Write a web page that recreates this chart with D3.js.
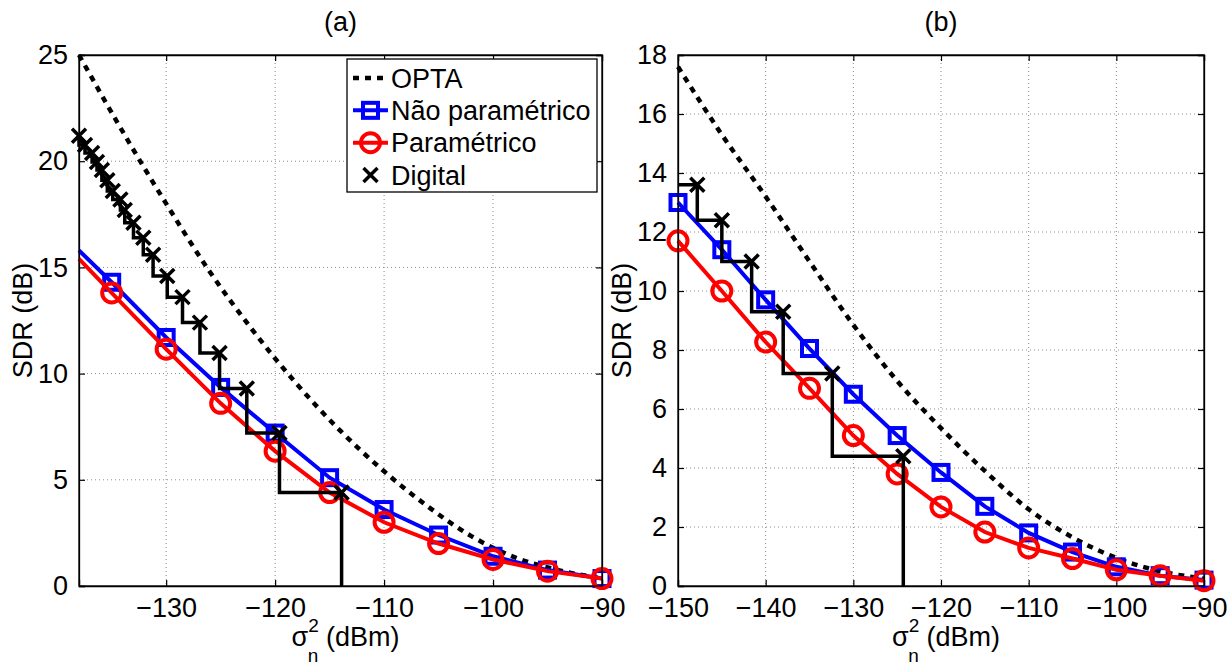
<!DOCTYPE html>
<html><head><meta charset="utf-8">
<script src="https://cdn.jsdelivr.net/npm/d3@7"></script>
<style>body{margin:0;background:#fff} text{font-family:"Liberation Sans",Arial,Helvetica,sans-serif;fill:#000}</style>
</head><body><svg id="c" width="1227" height="666"></svg>
<script>
// ---------- data : panel (a) ----------
const optaXA = [-138,-134,-130,-126,-122,-118,-114,-110,-106,-102,-98,-94,-90];
const optaYA = [25,21.4,18.0,14.8,12.0,9.5,7.3,5.4,3.75,2.35,1.35,0.75,0.35];
const markXA = [-135,-130,-125,-120,-115,-110,-105,-100,-95,-90];
const nparYA = [14.3,11.7,9.35,7.2,5.1,3.6,2.4,1.4,0.75,0.35];
const parYA  = [13.8,11.15,8.6,6.35,4.4,3.0,2.0,1.25,0.7,0.35];
const nparStartA = 15.8;   // value at left edge of axis
const parStartA  = 15.4;
const digXA = [-138.0,-137.45,-136.8,-136.35,-135.9,-135.4,-134.9,-134.2,-133.8,-133.0,-132.1,-131.2,-129.9,-128.5,-126.9,-125.1,-122.6,-119.6,-113.9];
const digYA = [21.2,20.76,20.39,19.96,19.59,19.1,18.6,18.2,17.7,17.1,16.4,15.6,14.6,13.6,12.4,10.97,9.3,7.2,4.4];
const xTicksA = [-130,-120,-110,-100,-90];
const yTicksA = [0,5,10,15,20,25];

// ---------- data : panel (b) ----------
const xB = [-150,-145,-140,-135,-130,-125,-120,-115,-110,-105,-100,-95,-90];
const optaYB = [17.6,15.3,13.2,11.0,8.85,6.95,5.35,3.9,2.6,1.65,0.95,0.5,0.25];
const nparYB = [13.0,11.4,9.7,8.05,6.5,5.1,3.85,2.7,1.8,1.15,0.65,0.35,0.2];
const parYB  = [11.7,10.0,8.27,6.7,5.1,3.8,2.68,1.83,1.29,0.93,0.55,0.35,0.18];
const digXB = [-147.8,-145.0,-141.6,-138.0,-132.4,-124.3];
const digYB = [13.6,12.4,11.0,9.3,7.2,4.4];
const xTicksB = [-150,-140,-130,-120,-110,-100,-90];
const yTicksB = [0,2,4,6,8,10,12,14,16,18];

const legendLabels = ["OPTA","Não paramétrico","Paramétrico","Digital"];
const titles = ["(a)","(b)"];

const FS = 27;
const LW = 4;      // series line width
const SQ = 15;     // square side
const CR = 9.5;    // circle radius
const XH = 7;      // x-marker half size
const svg = d3.select("#c");
const fmt = d3.format("");

function xMark(cx,cy){return `M${cx-XH},${cy-XH}L${cx+XH},${cy+XH}M${cx-XH},${cy+XH}L${cx+XH},${cy-XH}`;}

function drawPanel(cfg){
  const g = svg.append("g");
  const x = d3.scaleLinear().domain(cfg.xd).range([cfg.x0, cfg.x1]);
  const y = d3.scaleLinear().domain(cfg.yd).range([cfg.y1, cfg.y0]);
  // grid
  g.selectAll(".gx").data(cfg.xt.filter(v=>v>cfg.xd[0]&&v<cfg.xd[1])).enter().append("line")
    .attr("x1",d=>x(d)).attr("x2",d=>x(d)).attr("y1",cfg.y0).attr("y2",cfg.y1)
    .attr("stroke","#8a8a8a").attr("stroke-width",1).attr("stroke-dasharray","1,3");
  g.selectAll(".gy").data(cfg.yt.filter(v=>v>cfg.yd[0]&&v<cfg.yd[1])).enter().append("line")
    .attr("y1",d=>y(d)).attr("y2",d=>y(d)).attr("x1",cfg.x0).attr("x2",cfg.x1)
    .attr("stroke","#8a8a8a").attr("stroke-width",1).attr("stroke-dasharray","1,3");

  // axes with inward ticks
  const TL = 6;
  const axB = d3.axisBottom(x).tickValues(cfg.xt).tickSize(-TL).tickPadding(TL+6).tickFormat(fmt);
  const axT = d3.axisTop(x).tickValues(cfg.xt).tickSize(-TL).tickFormat("");
  const axL = d3.axisLeft(y).tickValues(cfg.yt).tickSize(-TL).tickPadding(TL+5).tickFormat(fmt);
  const axR = d3.axisRight(y).tickValues(cfg.yt).tickSize(-TL).tickFormat("");
  [[axB,`translate(0,${cfg.y1})`],[axT,`translate(0,${cfg.y0})`],[axL,`translate(${cfg.x0},0)`],[axR,`translate(${cfg.x1},0)`]]
    .forEach(([a,t])=>{
      const ga = g.append("g").attr("transform",t).call(a);
      ga.select(".domain").attr("stroke","#000").attr("stroke-width",1.3);
      ga.selectAll(".tick line").attr("stroke","#000").attr("stroke-width",1.2);
      ga.selectAll("text").attr("font-size",FS).attr("font-family","Liberation Sans, Arial, sans-serif").attr("fill","#000");
    });

  const pg = g.append("g");
  const line = d3.line().x(d=>x(d[0])).y(d=>y(d[1]));
  // OPTA
  pg.append("path").datum(d3.zip(cfg.optaX,cfg.optaY)).attr("d",line.curve(d3.curveMonotoneX))
    .attr("fill","none").attr("stroke","#000").attr("stroke-width",4.5).attr("stroke-dasharray","6,6");
  line.curve(d3.curveLinear);
  // Não paramétrico
  const npPts = d3.zip(cfg.mx,cfg.npar);
  const npLine = cfg.npStart!=null ? [[cfg.xd[0],cfg.npStart]].concat(npPts) : npPts;
  pg.append("path").datum(npLine).attr("d",line).attr("fill","none").attr("stroke","#0000ff").attr("stroke-width",LW);
  pg.selectAll(".sq").data(npPts).enter().append("rect")
    .attr("x",d=>x(d[0])-SQ/2).attr("y",d=>y(d[1])-SQ/2).attr("width",SQ).attr("height",SQ)
    .attr("fill","none").attr("stroke","#0000ff").attr("stroke-width",LW);
  // Paramétrico
  const pPts = d3.zip(cfg.mx,cfg.par);
  const pLine = cfg.pStart!=null ? [[cfg.xd[0],cfg.pStart]].concat(pPts) : pPts;
  pg.append("path").datum(pLine).attr("d",line).attr("fill","none").attr("stroke","#ff0000").attr("stroke-width",LW);
  pg.selectAll(".ci").data(pPts).enter().append("circle")
    .attr("cx",d=>x(d[0])).attr("cy",d=>y(d[1])).attr("r",CR)
    .attr("fill","none").attr("stroke","#ff0000").attr("stroke-width",LW);
  // Digital staircase
  const dPts = d3.zip(cfg.dx,cfg.dy);
  const dLine = [[cfg.xd[0],cfg.dy[0]]].concat(dPts).concat([[cfg.dx[cfg.dx.length-1],cfg.yd[0]]]);
  pg.append("path").datum(dLine).attr("d",d3.line().x(d=>x(d[0])).y(d=>y(d[1])).curve(d3.curveStepBefore))
    .attr("fill","none").attr("stroke","#000").attr("stroke-width",3.5);
  pg.selectAll(".xm").data(dPts).enter().append("path")
    .attr("d",d=>xMark(x(d[0]),y(d[1])))
    .attr("stroke","#000").attr("stroke-width",3.5).attr("fill","none");

  // frame on top
  g.append("rect").attr("x",cfg.x0).attr("y",cfg.y0).attr("width",cfg.x1-cfg.x0).attr("height",cfg.y1-cfg.y0)
    .attr("fill","none").attr("stroke","#000").attr("stroke-width",1.3);

  // title
  const cx = (cfg.x0+cfg.x1)/2;
  g.append("text").attr("x",cx).attr("y",31).attr("text-anchor","middle").attr("font-size",FS).text(cfg.title);
  // y label
  g.append("text").attr("transform",`translate(${cfg.ylx},${(cfg.y0+cfg.y1)/2}) rotate(-90)`)
    .attr("text-anchor","middle").attr("font-size",FS).text("SDR (dB)");
  // x label σ_n^2 (dBm) as one text element
  const xl = g.append("text").attr("x",cx+5).attr("y",646).attr("text-anchor","middle").attr("font-size",FS);
  xl.append("tspan").text("σ");
  xl.append("tspan").attr("font-size",19).attr("dy",-14).text("2");
  xl.append("tspan").attr("font-size",19).attr("dx",-11).attr("dy",30).text("n");
  xl.append("tspan").attr("dy",-16).text("  (dBm)");
  return {x,y,g};
}

drawPanel({id:"a",x0:79,x1:602,y0:55,y1:586,xd:[-138,-90],yd:[0,25],xt:xTicksA,yt:yTicksA,
  optaX:optaXA,optaY:optaYA,mx:markXA,npar:nparYA,par:parYA,npStart:nparStartA,pStart:parStartA,
  dx:digXA,dy:digYA,title:titles[0],ylx:32});
drawPanel({id:"b",x0:678,x1:1204,y0:55,y1:586,xd:[-150,-90],yd:[0,18],xt:xTicksB,yt:yTicksB,
  optaX:xB,optaY:optaYB,mx:xB,npar:nparYB,par:parYB,npStart:null,pStart:null,
  dx:digXB,dy:digYB,title:titles[1],ylx:631});

// legend (panel a)
const lg = svg.append("g");
const L = {x0:347,x1:597,y0:59,y1:192};
lg.append("rect").attr("x",L.x0).attr("y",L.y0).attr("width",L.x1-L.x0).attr("height",L.y1-L.y0)
  .attr("fill","#fff").attr("stroke","#000").attr("stroke-width",1.3);
const rowY = d3.scalePoint().domain(legendLabels).range([78,175]);
const sx0=353, sx1=388, smid=(sx0+sx1)/2;
legendLabels.forEach((lab,i)=>{
  const yy = rowY(lab);
  if(i===0) lg.append("line").attr("x1",sx0).attr("x2",sx1).attr("y1",yy).attr("y2",yy)
      .attr("stroke","#000").attr("stroke-width",4.5).attr("stroke-dasharray","6,6");
  if(i===1){
    lg.append("line").attr("x1",sx0).attr("x2",sx1).attr("y1",yy).attr("y2",yy).attr("stroke","#0000ff").attr("stroke-width",LW);
    lg.append("rect").attr("x",smid-SQ/2).attr("y",yy-SQ/2).attr("width",SQ).attr("height",SQ).attr("fill","none").attr("stroke","#0000ff").attr("stroke-width",LW);
  }
  if(i===2){
    lg.append("line").attr("x1",sx0).attr("x2",sx1).attr("y1",yy).attr("y2",yy).attr("stroke","#ff0000").attr("stroke-width",LW);
    lg.append("circle").attr("cx",smid).attr("cy",yy).attr("r",CR).attr("fill","none").attr("stroke","#ff0000").attr("stroke-width",LW);
  }
  if(i===3){
    lg.append("path").attr("d",xMark(smid,yy)).attr("stroke","#000").attr("stroke-width",3.5);
  }
  lg.append("text").attr("x",391).attr("y",yy).attr("dy","0.36em").attr("font-size",FS).text(lab);
});
</script></body></html>
